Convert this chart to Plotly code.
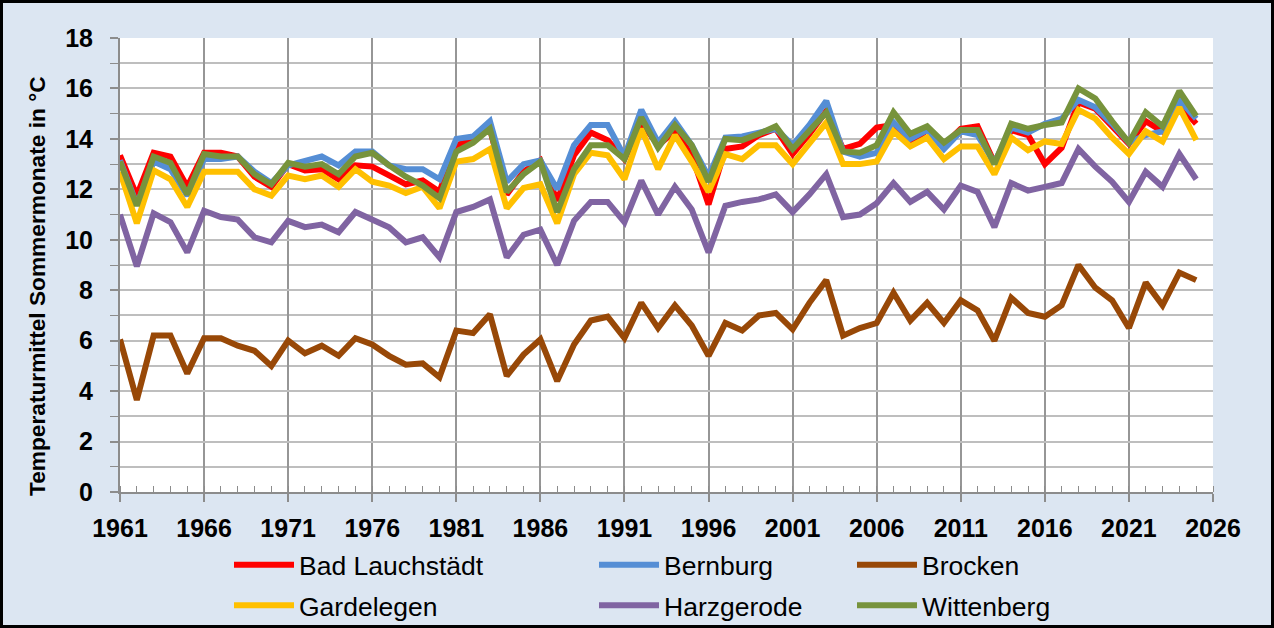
import plotly.graph_objects as go

years = list(range(1961, 2026))

bad_lauchstaedt = [13.35, 11.75, 13.45, 13.3, 12.1, 13.45, 13.45, 13.3, 12.5, 12.1,
                   13.0, 12.75, 12.8, 12.4, 12.95, 12.9, 12.55, 12.2, 12.35, 11.9,
                   13.75, 13.95, 14.4, 11.8, 12.7, 13.15, 11.55, 13.35, 14.25, 13.95,
                   13.2, 14.65, 13.75, 14.3, 13.35, 11.4, 13.6, 13.7, 14.15, 14.4,
                   13.4, 14.2, 15.1, 13.6, 13.8, 14.45, 14.55, 13.85, 14.35, 13.75,
                   14.4, 14.5, 13.05, 14.35, 14.15, 13.0, 13.65, 15.45, 15.2, 14.5,
                   13.8, 14.7, 14.3, 15.35, 14.6]
bernburg = [13.15, 11.4, 13.1, 12.8, 11.75, 13.2, 13.2, 13.3, 12.7, 12.25,
            12.95, 13.15, 13.3, 12.95, 13.5, 13.5, 12.95, 12.8, 12.8, 12.4,
            14.0, 14.1, 14.7, 12.3, 13.0, 13.15, 12.0, 13.75, 14.55, 14.55,
            13.3, 15.15, 13.85, 14.7, 13.75, 12.5, 14.05, 14.1, 14.25, 14.4,
            13.75, 14.55, 15.5, 13.5, 13.3, 13.45, 14.65, 14.0, 14.35, 13.6,
            14.3, 14.15, 13.05, 14.45, 14.25, 14.6, 14.8, 15.55, 15.25, 14.6,
            13.85, 14.15, 14.3, 15.55, 14.8]
brocken = [6.05, 3.65, 6.2, 6.2, 4.7, 6.1, 6.1, 5.8, 5.6, 5.0,
           6.0, 5.5, 5.8, 5.4, 6.1, 5.85, 5.4, 5.05, 5.1, 4.55,
           6.4, 6.3, 7.05, 4.6, 5.45, 6.05, 4.4, 5.85, 6.8, 6.95,
           6.1, 7.5, 6.5, 7.4, 6.6, 5.4, 6.7, 6.4, 7.0, 7.1,
           6.45, 7.5, 8.4, 6.2, 6.5, 6.7, 7.9, 6.8, 7.5, 6.7,
           7.6, 7.2, 6.0, 7.7, 7.1, 6.95, 7.4, 9.0, 8.1, 7.6,
           6.5, 8.3, 7.4, 8.7, 8.4]
gardelegen = [12.7, 10.65, 12.75, 12.4, 11.3, 12.7, 12.7, 12.7, 12.0, 11.75,
              12.55, 12.4, 12.55, 12.1, 12.8, 12.3, 12.15, 11.85, 12.1, 11.25,
              13.1, 13.2, 13.6, 11.25, 12.05, 12.2, 10.65, 12.6, 13.45, 13.35,
              12.4, 14.4, 12.8, 14.15, 13.1, 11.9, 13.4, 13.2, 13.75, 13.75,
              13.0, 13.85, 14.65, 13.0, 13.0, 13.1, 14.3, 13.7, 14.05, 13.2,
              13.7, 13.7, 12.6, 14.05, 13.55, 13.9, 13.8, 15.15, 14.8, 14.05,
              13.4, 14.3, 13.9, 15.25, 13.95]
harzgerode = [11.0, 8.95, 11.05, 10.7, 9.5, 11.15, 10.9, 10.8, 10.1, 9.9,
              10.75, 10.5, 10.6, 10.3, 11.1, 10.8, 10.5, 9.9, 10.1, 9.3,
              11.1, 11.3, 11.6, 9.3, 10.2, 10.4, 9.0, 10.75, 11.5, 11.5,
              10.7, 12.35, 11.0, 12.1, 11.2, 9.5, 11.35, 11.5, 11.6, 11.8,
              11.1, 11.8, 12.6, 10.9, 11.0, 11.45, 12.25, 11.5, 11.9, 11.2,
              12.15, 11.9, 10.5, 12.25, 11.95, 12.1, 12.25, 13.6, 12.9, 12.3,
              11.5, 12.7, 12.1, 13.4, 12.4]
wittenberg = [13.1, 11.35, 13.3, 13.05, 11.8, 13.4, 13.3, 13.3, 12.6, 12.2,
              13.05, 12.9, 13.0, 12.6, 13.3, 13.45, 12.95, 12.5, 12.15, 11.65,
              13.5, 13.85, 14.4, 11.9, 12.6, 13.1, 11.1, 12.8, 13.75, 13.75,
              13.2, 14.85, 13.65, 14.55, 13.75, 12.3, 14.0, 13.95, 14.2, 14.5,
              13.6, 14.35, 15.05, 13.5, 13.45, 13.75, 15.05, 14.2, 14.5, 13.85,
              14.35, 14.35, 13.0, 14.6, 14.4, 14.55, 14.65, 16.0, 15.6, 14.7,
              13.85, 15.05, 14.5, 15.9, 14.9]

series = [
    ("Bad Lauchstädt", bad_lauchstaedt, "#FF0000", "legend"),
    ("Bernburg", bernburg, "#558ED5", "legend2"),
    ("Brocken", brocken, "#984807", "legend3"),
    ("Gardelegen", gardelegen, "#FFC000", "legend"),
    ("Harzgerode", harzgerode, "#8064A2", "legend2"),
    ("Wittenberg", wittenberg, "#77933C", "legend3"),
]

FONT = "Liberation Sans, Arial, sans-serif"
W, H = 1274, 628
ML, MR, MT, MB = 120, 61, 38, 136
PW, PH = W - ML - MR, H - MT - MB

fig = go.Figure()
for name, vals, color, leg in series:
    fig.add_trace(go.Scatter(
        x=years, y=vals, name=name, mode="lines",
        line=dict(color=color, width=6),
        legend=leg, legendgroup=name,
    ))

def px_x(px):
    return (px - ML) / PW

def px_y(py):
    return (H - MB - py) / PH

leg_common = dict(
    orientation="v", font=dict(family=FONT, size=26.5, color="#000000"),
    bgcolor="rgba(0,0,0,0)", tracegroupgap=3, itemwidth=60,
    xanchor="left", yanchor="top", traceorder="grouped",
)
fig.update_layout(
    width=W, height=H, autosize=False,
    margin=dict(l=ML, r=MR, t=MT, b=MB, autoexpand=False),
    paper_bgcolor="#DCE6F2",
    plot_bgcolor="#FFFFFF",
    showlegend=True,
    legend=dict(x=px_x(229), y=px_y(541), **leg_common),
    legend2=dict(x=px_x(594), y=px_y(541), **leg_common),
    legend3=dict(x=px_x(852), y=px_y(541), **leg_common),
    xaxis=dict(
        range=[1961, 2026], tick0=1961, dtick=5,
        tickfont=dict(family=FONT, size=25, color="#000000", weight="bold"),
        showgrid=True, gridcolor="#969696", gridwidth=2,
        showline=True, linecolor="#8C8C8C", linewidth=2,
        ticks="outside", ticklen=8, tickcolor="#8C8C8C", tickwidth=2,
        ticklabelstandoff=5, automargin=False,
        minor=dict(dtick=1, tick0=1961, ticks="inside", ticklen=6,
                   tickcolor="#8C8C8C", tickwidth=1, showgrid=False),
        zeroline=False, fixedrange=True,
    ),
    yaxis=dict(
        range=[0, 18], tick0=0, dtick=2,
        tickfont=dict(family=FONT, size=25, color="#000000", weight="bold"),
        showgrid=True, gridcolor="#BEBEBE", gridwidth=2,
        showline=True, linecolor="#8C8C8C", linewidth=2,
        ticks="outside", ticklen=8, tickcolor="#8C8C8C", tickwidth=2,
        ticklabelstandoff=12, automargin=False,
        minor=dict(dtick=1, ticks="outside", ticklen=8, tickcolor="#8C8C8C",
                   tickwidth=1, showgrid=True, gridcolor="#BEBEBE", gridwidth=2),
        zeroline=False, fixedrange=True,
    ),
    annotations=[dict(
        text="<b>Temperaturmittel Sommermonate in °C</b>",
        xref="paper", yref="paper", x=px_x(37), y=px_y(286),
        xanchor="center", yanchor="middle", textangle=-90, showarrow=False,
        font=dict(family=FONT, size=22.7, color="#000000"),
    )],
    shapes=[dict(
        type="rect", xref="paper", yref="paper",
        x0=px_x(1.5), x1=px_x(W - 1.5), y0=px_y(H - 1.5), y1=px_y(1.5),
        line=dict(color="#000000", width=3), fillcolor="rgba(0,0,0,0)",
        layer="above",
    )],
)

# Remove the default page margin so the figure sits at the window's corner.
post = (
    "var gd=document.getElementById('{plot_id}');"
    "var de=document.documentElement,b=document.body;"
    "de.style.margin='0';de.style.padding='0';de.style.overflow='hidden';"
    "b.style.margin='0';b.style.padding='0';b.style.overflow='hidden';"
    "b.style.background='#DCE6F2';"
    "gd.style.position='fixed';gd.style.left='0px';gd.style.top='0px';"
    "gd.style.margin='0';"
)

fig.write_html(
    "out.html",
    config={"responsive": False, "displayModeBar": False},
    default_width="1274px", default_height="628px",
    post_script=post,
)
